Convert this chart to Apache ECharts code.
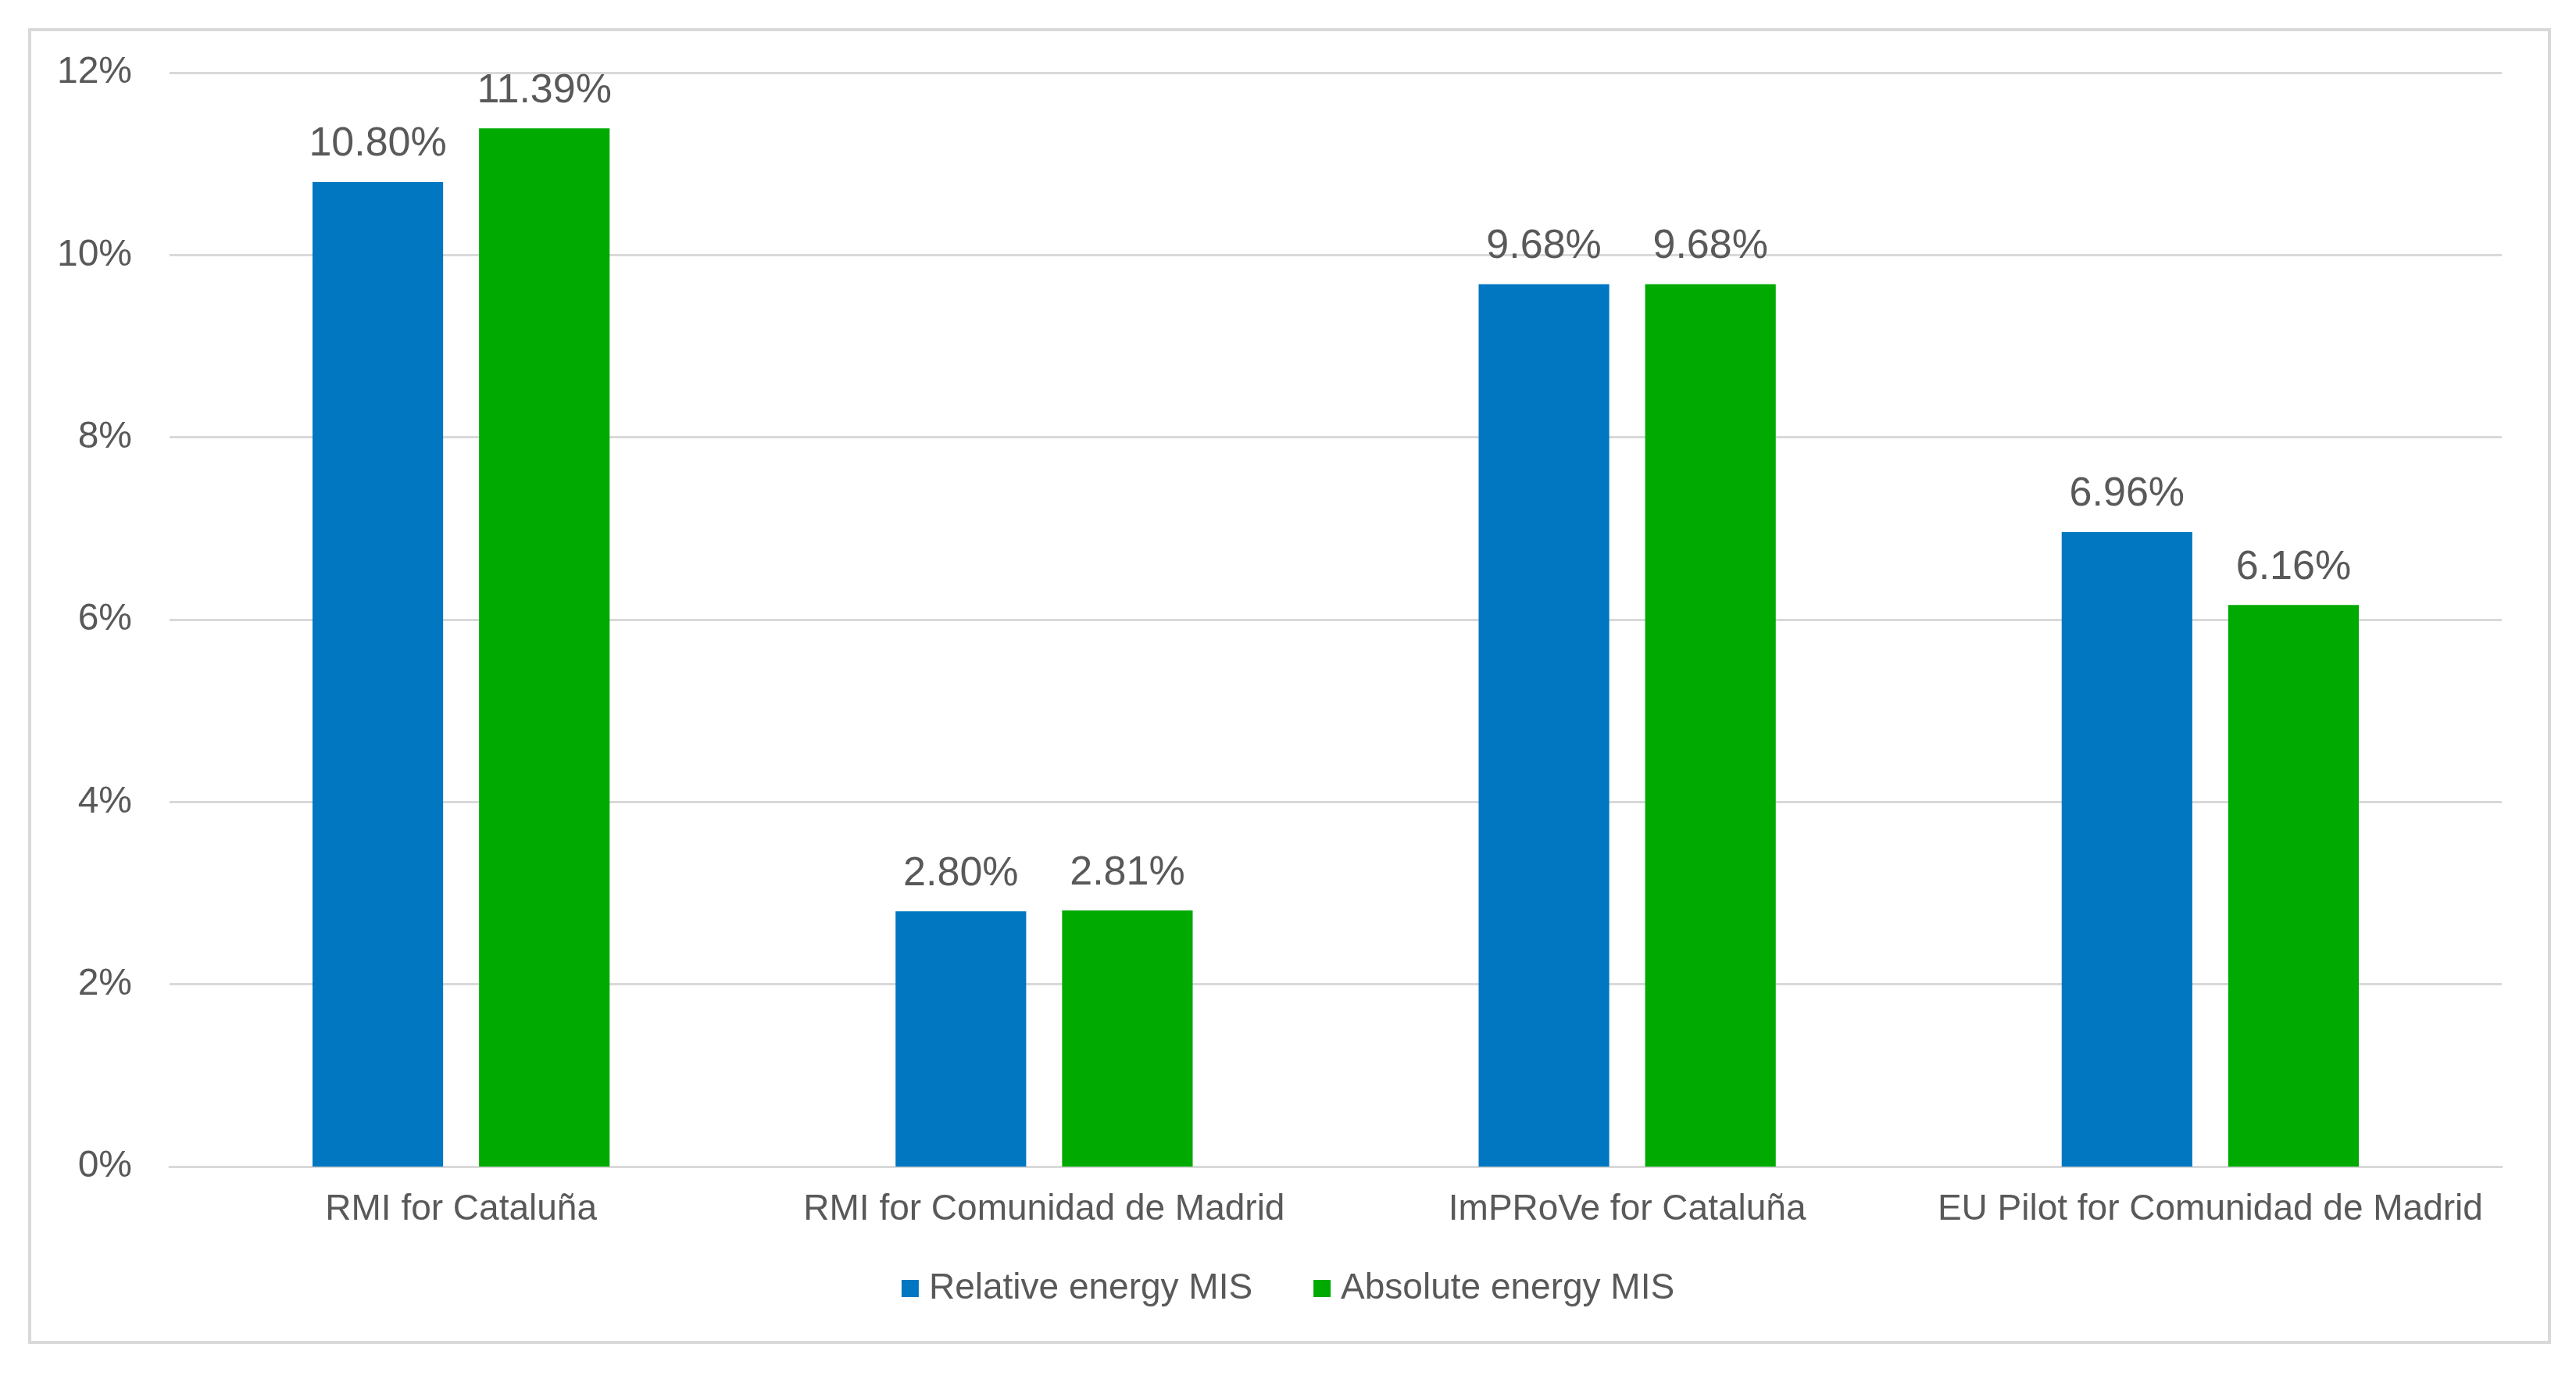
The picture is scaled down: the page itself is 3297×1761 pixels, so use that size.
<!DOCTYPE html>
<html>
<head>
<meta charset="utf-8">
<script src="https://cdn.jsdelivr.net/npm/echarts@6/dist/echarts.min.js"></script>
<style>
html,body{margin:0;padding:0;background:#fff;}
#c{width:3297px;height:1761px;}
</style>
</head>
<body>
<div id="c"></div>
<script>
const categories = ['RMI for Cataluña', 'RMI for Comunidad de Madrid', 'ImPRoVe for Cataluña', 'EU Pilot for Comunidad de Madrid'];
const seriesNames = ['Relative energy MIS', 'Absolute energy MIS'];
const relativeValues = [10.80, 2.80, 9.68, 6.96];
const absoluteValues = [11.39, 2.81, 9.68, 6.16];
const yTicks = { min: 0, max: 12, interval: 2 };

const FONT = '"Liberation Sans", Arial, sans-serif';
const TXT = '#595959';
const chart = echarts.init(document.getElementById('c'), null, { renderer: 'canvas' });

const labelCfg = {
  show: true,
  position: 'top',
  distance: 22,
  color: TXT,
  fontFamily: FONT,
  fontSize: 52,
  formatter: p => p.value.toFixed(2) + '%'
};

chart.setOption({
  animation: false,
  backgroundColor: '#fff',
  graphic: [{
    type: 'rect',
    shape: { x: 38, y: 38, width: 3225, height: 1680 },
    style: { fill: 'none', stroke: '#D9D9D9', lineWidth: 4 },
    silent: true
  }],
  grid: { left: 217, right: 95, top: 93, bottom: 268, containLabel: false },
  legend: {
    bottom: 1761 - 1677,
    left: 'center',
    itemWidth: 22,
    itemHeight: 22,
    itemGap: 78,
    icon: 'rect',
    textStyle: { color: TXT, fontFamily: FONT, fontSize: 46, padding: [0, 0, 0, 8] },
    data: seriesNames
  },
  xAxis: {
    type: 'category',
    data: categories,
    axisLine: { show: true, lineStyle: { color: '#D9D9D9', width: 3 } },
    axisTick: { show: false },
    axisLabel: { color: TXT, fontFamily: FONT, fontSize: 46, margin: 32, interval: 0 }
  },
  yAxis: {
    type: 'value',
    min: yTicks.min, max: yTicks.max, interval: yTicks.interval,
    axisLine: { show: false },
    axisTick: { show: false },
    splitLine: { lineStyle: { color: '#D9D9D9', width: 3 } },
    axisLabel: { color: TXT, fontFamily: FONT, fontSize: 48, margin: 48, formatter: '{value}%' }
  },
  series: [
    {
      name: seriesNames[0], type: 'bar', data: relativeValues,
      barWidth: '22.4%', barGap: '27.5%',
      itemStyle: { color: '#0077C0' },
      label: labelCfg
    },
    {
      name: seriesNames[1], type: 'bar', data: absoluteValues,
      barWidth: '22.4%', barGap: '27.5%',
      itemStyle: { color: '#00AA00' },
      label: labelCfg
    }
  ]
});
</script>
</body>
</html>
